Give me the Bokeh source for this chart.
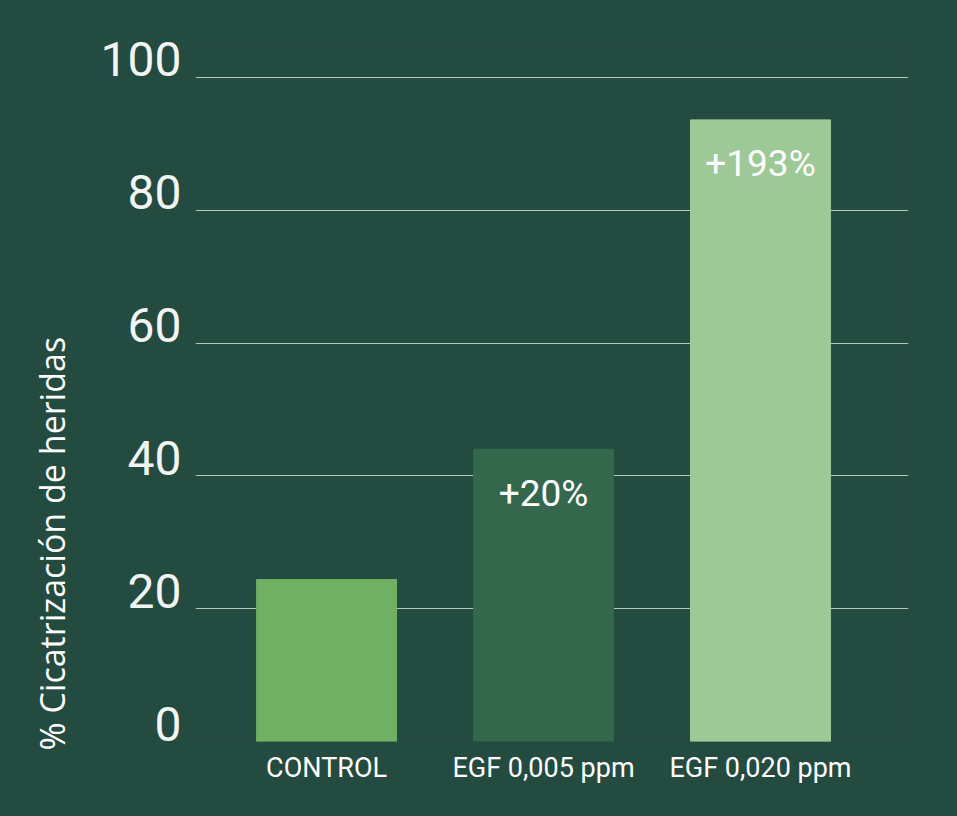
from bokeh.plotting import figure
from bokeh.models import ColumnDataSource, Range1d, FixedTicker, LinearAxis, Title
from bokeh.core.properties import value
from bokeh.embed import file_html
from bokeh.resources import INLINE

categories = ["CONTROL", "EGF 0,005 ppm", "EGF 0,020 ppm"]
healing = [24.4, 44.0, 93.6]
increase_labels = ["", "+20%", "+193%"]
bar_colors = ["#6fb063", "#33684c", "#9dc997"]
y_ticks = [0, 20, 40, 60, 80, 100]
y_axis_title = "% Cicatrización de heridas"

BG = "#244b40"
idx = list(range(len(categories)))
X0, X1 = -0.604, 2.682
YEND = 104.5          # a little headroom above 100 for the top tick label
LAB_SHIFT = 2.7       # tick labels sit just above their grid lines

src = ColumnDataSource(dict(x=idx, top=healing, color=bar_colors,
                            lab=increase_labels, cat=categories))

p = figure(width=957, height=816, output_backend="svg", toolbar_location=None,
           x_range=Range1d(X0, X1), y_range=Range1d(0, YEND),
           y_axis_location=None,
           min_border_left=195, min_border_right=49,
           min_border_top=47, min_border_bottom=75)
p.background_fill_color = BG
p.border_fill_color = BG
p.outline_line_color = None
p.styles = {"background-color": BG}

p.vbar(x="x", top="top", width=0.645, bottom=0, color="color", source=src)

p.text(x="x", y="top", text="lab", source=src, text_align="center",
       text_baseline="alphabetic", y_offset=44, text_color="white",
       text_font=value("Roboto"), text_font_size="37px")

# grid
p.ygrid.ticker = FixedTicker(ticks=y_ticks)
p.ygrid.grid_line_color = "#b5c7bf"
p.ygrid.grid_line_width = 1
p.xgrid.grid_line_color = None

# x axis
xa = p.xaxis[0]
xa.ticker = FixedTicker(ticks=idx)
xa.major_label_overrides = {i: c for i, c in zip(idx, categories)}
xa.axis_line_color = None
xa.major_tick_line_color = None
xa.minor_tick_line_color = None
xa.major_tick_out = 0
xa.major_label_standoff = 10
xa.major_label_text_color = "white"
xa.major_label_text_font = "Roboto"
xa.major_label_text_font_size = "27px"

# y tick labels (shifted range so the numbers sit on top of the grid lines)
p.extra_y_ranges = {"lab": Range1d(-LAB_SHIFT, YEND - LAB_SHIFT)}
ya = LinearAxis(y_range_name="lab", ticker=FixedTicker(ticks=y_ticks))
ya.axis_line_color = None
ya.major_tick_line_color = None
ya.minor_tick_line_color = None
ya.major_tick_out = 0
ya.major_tick_in = 0
ya.major_label_standoff = 14
ya.major_label_text_color = "#f2f5f3"
ya.major_label_text_font = "Roboto"
ya.major_label_text_font_size = "48px"
p.add_layout(ya, "left")

# y axis title
p.add_layout(Title(text=y_axis_title, align="left", offset=-9, standoff=45,
                   text_color="white", text_font="Open Sans",
                   text_font_style="normal", text_font_size="34px"), "left")

open("out.html", "w").write(file_html(p, INLINE))
